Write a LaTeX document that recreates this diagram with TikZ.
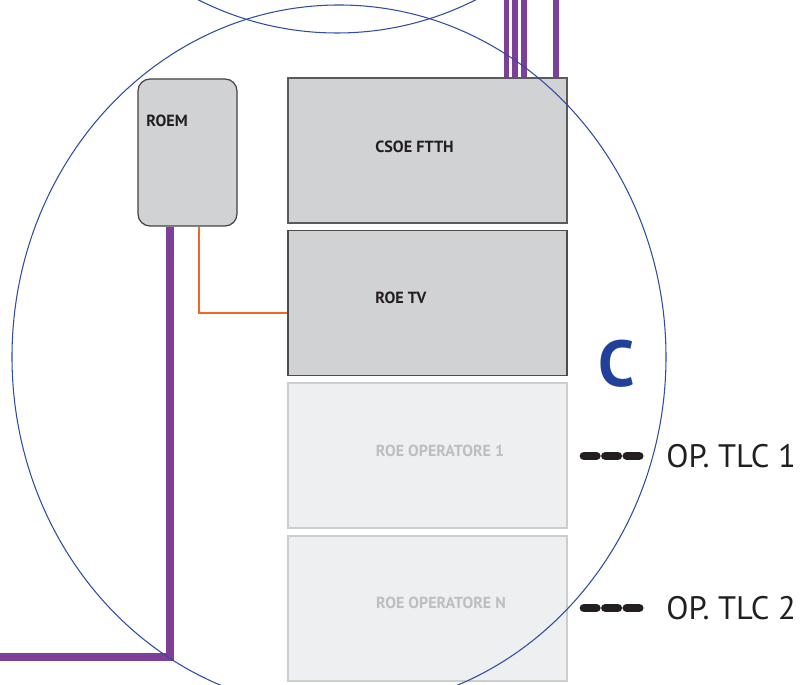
\documentclass[tikz,border=0pt]{standalone}
\usepackage{fontspec}
\setmainfont{PT Sans}
\usepackage{xcolor}
\usetikzlibrary{positioning,calc}

\definecolor{ringblue}{RGB}{46,76,160}
\definecolor{zoneblue}{RGB}{33,64,154}
\definecolor{fibre}{RGB}{125,63,152}
\definecolor{coax}{RGB}{242,101,34}
\definecolor{rackgray}{RGB}{209,210,212}
\definecolor{rackline}{RGB}{90,90,92}
\definecolor{ghostfill}{RGB}{238,239,241}
\definecolor{ghostline}{RGB}{204,205,207}
\definecolor{ghosttext}{RGB}{188,190,192}
\definecolor{ink}{RGB}{35,31,32}

\begin{document}
\begin{tikzpicture}[x=0.2mm,y=0.2mm,
    rackbox/.style={draw=rackline, fill=rackgray, line width=0.7pt, minimum width=55.8mm, minimum height=29mm, inner sep=0pt},
    ghostbox/.style={draw=ghostline, fill=ghostfill, line width=0.7pt, minimum width=55.8mm, minimum height=29mm, inner sep=0pt},
    boxlabel/.style={inner sep=0pt, text=ink, font=\fontsize{9.2}{11}\selectfont\bfseries},
    ghostlabel/.style={inner sep=0pt, text=ghosttext, font=\fontsize{9.1}{11}\selectfont\bfseries},
    oplabel/.style={inner sep=0pt, text=ink, font=\fontsize{18.5}{22}\selectfont},
    fibreline/.style={draw=fibre, line width=4.5pt},
    fibrethin/.style={draw=fibre, line width=3pt},
    coaxline/.style={draw=coax, line width=1.4pt},
    opdash/.style={draw=ink, line width=5pt, line cap=round, dash pattern=on 7pt off 5.2pt},
    ring/.style={draw=ringblue, line width=0.6pt}]

    \useasboundingbox (0,0) rectangle (803,685);

    % Wall socket
    \node[rackbox, draw=ink!85, minimum width=19.8mm, minimum height=29.4mm, rounded corners=2.4mm] (roem) at (187.5,532.5) {};
    \node[boxlabel, anchor=west] at (146,564) {ROEM};

    % Rack of distribution boxes
    \node[rackbox] (csoe) at (427.5,534.5) {};
    \node[rackbox, draw=ink!80] (roetv) at (427.5,382) {};
    \node[ghostbox] (op1) at (427.5,229.5) {};
    \node[ghostbox] (opn) at (427.5,76.5) {};

    \node[boxlabel, anchor=west] at (375,538) {CSOE FTTH};
    \node[boxlabel, anchor=west] at (375,387) {ROE TV};
    \node[ghostlabel] at (440,234) {ROE OPERATORE 1};
    \node[ghostlabel] at (441,82) {ROE OPERATORE N};

    % Fibre risers on top
    \foreach \dx/\n in {1.58/a,1.75/b,1.93/c,2.57/d} {
        \coordinate (top\n) at ($(csoe.north)+(\dx cm,0)+(0,78)$);
        \draw[fibrethin] ([xshift=\dx cm]csoe.north) -- (top\n);
    }

    % Cables from the wall socket
    \coordinate (exit) at (0,28);
    \draw[fibreline] ([xshift=-3.5mm]roem.south) |- (exit);
    \draw[coaxline] ([xshift=2.3mm]roem.south) |- ([yshift=-2mm]roetv.west);

    % Operators
    \node[oplabel, anchor=west] (tlc1) at (666,229) {OP. TLC 1};
    \node[oplabel, anchor=west] (tlc2) at (666,77) {OP. TLC 2};
    \coordinate (d1) at (584,229);
    \coordinate (d2) at (584,77);
    \draw[opdash] (d1) -- ([xshift=-4.4mm]tlc1.west);
    \draw[opdash] (d2) -- ([xshift=-4.4mm]tlc2.west);

    % Zone letter
    \node[inner sep=0pt, text=zoneblue, font=\fontsize{37}{42}\selectfont\bfseries] (zone) at (617,321) {C};

    % Zone outlines
    \begin{scope}
        \clip (0,0) rectangle (803,685);
        \draw[ring] (339,328) ellipse [x radius=327, y radius=352];
        \draw[ring] (337,1004) ellipse [x radius=327, y radius=352];
    \end{scope}
\end{tikzpicture}
\end{document}
